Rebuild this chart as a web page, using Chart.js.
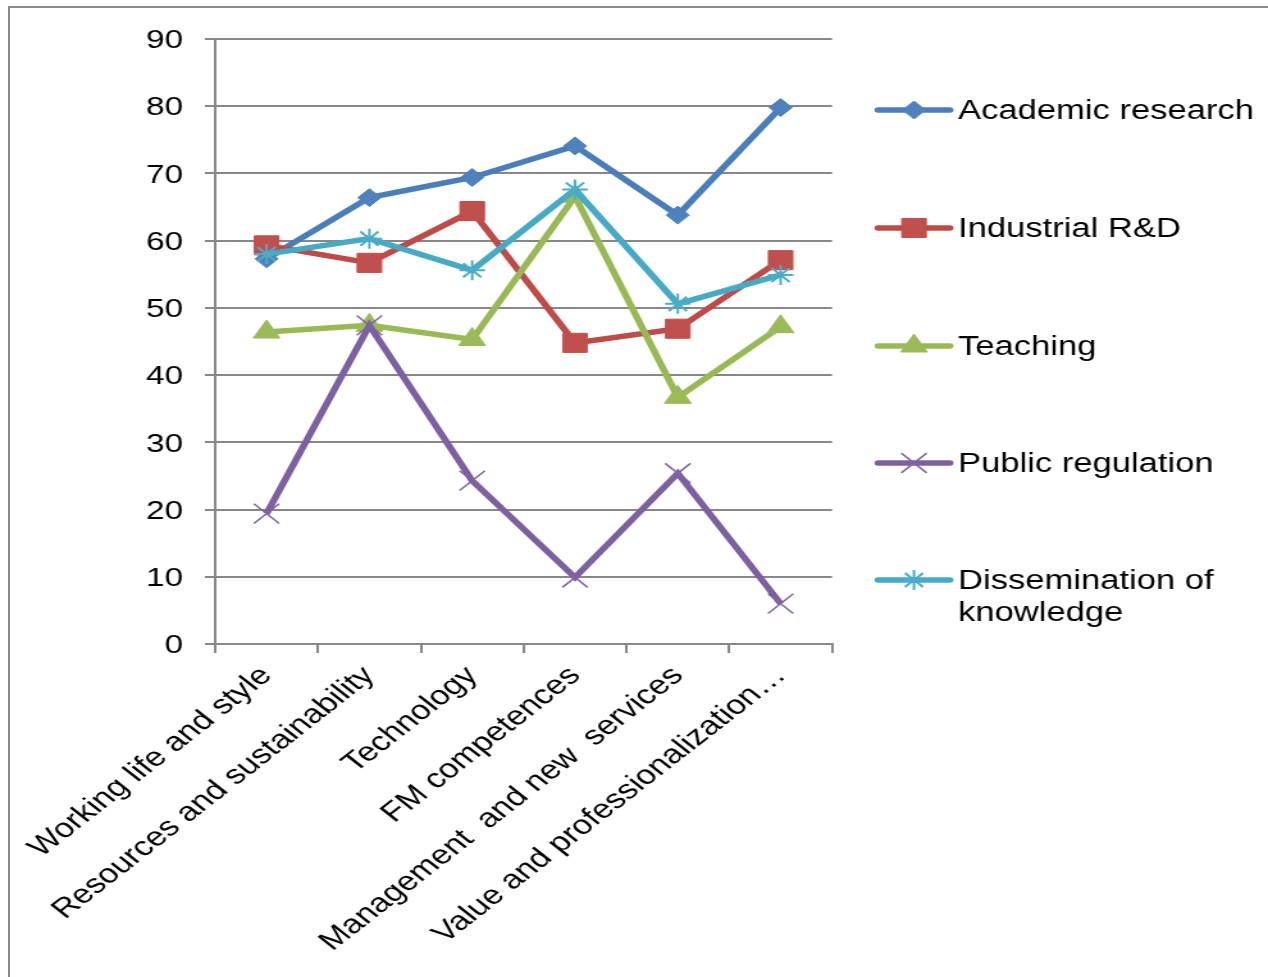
<!DOCTYPE html>
<html><head><meta charset="utf-8">
<script src="https://cdn.jsdelivr.net/npm/chart.js@4/dist/chart.umd.min.js"></script>
<style>
html,body{margin:0;padding:0;background:#fff;overflow:hidden;width:1268px;height:977px;}
#frame{position:absolute;left:8px;top:6px;width:1300px;height:1000px;border-left:2px solid #8a8a8a;border-top:2px solid #8a8a8a;}
#wrap{position:absolute;left:0;top:0;width:990px;height:977px;transform:scaleX(1.280808);transform-origin:0 0;}
</style></head><body>
<div id="frame"></div>
<div id="wrap"><canvas id="c" width="990" height="977" style="width:990px;height:977px"></canvas></div>
<script>
const categories = ["Working life and style", "Resources and sustainability", "Technology", "FM competences", "Management  and new  services", "Value and professionalization\u2026"];
const seriesNames = ["Academic research", "Industrial R&D", "Teaching", "Public regulation", "Dissemination of knowledge"];
const academicResearch = [57.3, 66.4, 69.4, 74.1, 63.8, 79.8];
const industrialRD = [59.3, 56.7, 64.4, 44.8, 46.9, 57.1];
const teaching = [46.4, 47.4, 45.3, 66.6, 36.7, 47.2];
const publicRegulation = [19.4, 47.4, 24.3, 9.9, 25.4, 6.0];
const dissemination = [58.0, 60.3, 55.6, 67.6, 50.6, 54.9];
const yTicks = [0, 10, 20, 30, 40, 50, 60, 70, 80, 90];

const lineColors = ["#4A7EBB", "#BE4B48", "#98B954", "#7D60A0", "#46AAC5"];
const markerColors = ["#4F81BD", "#C0504D", "#9BBB59", "#8064A2", "#4BACC6"];
const pointStyles = ["rectRot", "rect", "triangle", "crossRot", "star"];
const pointRadii = [9, 13.5, 12, 14, 10];
const pointBorders = [1, 1, 1, 1.5, 2];
const seriesValues = [academicResearch, industrialRD, teaching, publicRegulation, dissemination];

const FONT = "'Liberation Sans', Arial, sans-serif";
const GRID = "#878787";

const datasets = seriesNames.map((name, i) => ({
  label: name,
  data: seriesValues[i],
  borderColor: lineColors[i],
  backgroundColor: markerColors[i],
  borderWidth: 5.5,
  pointStyle: pointStyles[i],
  pointRadius: pointRadii[i],
  pointHoverRadius: pointRadii[i],
  pointBackgroundColor: markerColors[i],
  pointBorderColor: markerColors[i],
  pointBorderWidth: pointBorders[i],
  tension: 0,
  fill: false,
  order: seriesNames.length - i
}));

const sideLegend = {
  id: 'sideLegend',
  afterDraw(chart) {
    const ctx = chart.ctx;
    const rowY = [111, 229, 347, 464, 581];
    const lineX0 = 685.5, lineX1 = 741.7, markX = 713.6, textX = 748;
    const maxW = 236;
    ctx.save();
    ctx.font = "27px " + FONT;
    chart.data.datasets.forEach((ds, i) => {
      const y = rowY[i];
      ctx.strokeStyle = ds.borderColor;
      ctx.lineWidth = 5.5;
      ctx.lineCap = 'round';
      ctx.beginPath();
      ctx.moveTo(lineX0, y - 1); ctx.lineTo(lineX1, y - 1);
      ctx.stroke();
      ctx.fillStyle = ds.pointBackgroundColor;
      ctx.strokeStyle = ds.pointBorderColor;
      ctx.lineWidth = ds.pointBorderWidth;
      ctx.lineCap = 'butt';
      if (Chart.helpers && Chart.helpers.drawPoint) {
        Chart.helpers.drawPoint(ctx, {pointStyle: ds.pointStyle, radius: ds.pointRadius, rotation: 0, borderWidth: ds.pointBorderWidth}, markX, y - 1);
      }
      const words = ds.label.split(' ');
      const lines = [];
      let cur = '';
      words.forEach(w => {
        const t = cur ? cur + ' ' + w : w;
        if (ctx.measureText(t).width > maxW && cur) { lines.push(cur); cur = w; } else { cur = t; }
      });
      if (cur) lines.push(cur);
      ctx.fillStyle = '#000';
      ctx.textAlign = 'left';
      ctx.textBaseline = 'middle';
      lines.forEach((ln, k) => ctx.fillText(ln, textX, y + 1 + k * 32));
    });
    ctx.restore();
  }
};

new Chart(document.getElementById('c'), {
  type: 'line',
  data: { labels: categories, datasets },
  options: {
    responsive: false,
    devicePixelRatio: 1,
    animation: false,
    layout: { padding: { left: 0, top: 39, right: 340.4, bottom: 0 } },
    plugins: { legend: { display: false }, tooltip: { enabled: false } },
    scales: {
      x: {
        offset: true,
        ticks: { autoSkip: false, maxRotation: 45, minRotation: 45, color: '#000', font: { family: FONT, size: 27 }, padding: 7 },
        grid: { offset: true, drawOnChartArea: false, drawTicks: true, tickLength: 9, color: GRID, lineWidth: 2 },
        border: { color: GRID, width: 2 },
        afterFit(s) { s.height = 333; }
      },
      y: {
        min: 0, max: 90,
        afterBuildTicks(s) { s.ticks = yTicks.map(v => ({ value: v })); },
        ticks: { color: '#000', font: { family: FONT, size: 26 }, padding: 17, labelOffset: 2 },
        grid: { color: GRID, lineWidth: 2, tickLength: 8, drawTicks: true },
        border: { color: GRID, width: 2 },
        afterFit(s) { s.width = 168; }
      }
    }
  },
  plugins: [sideLegend]
});
</script>
</body></html>
